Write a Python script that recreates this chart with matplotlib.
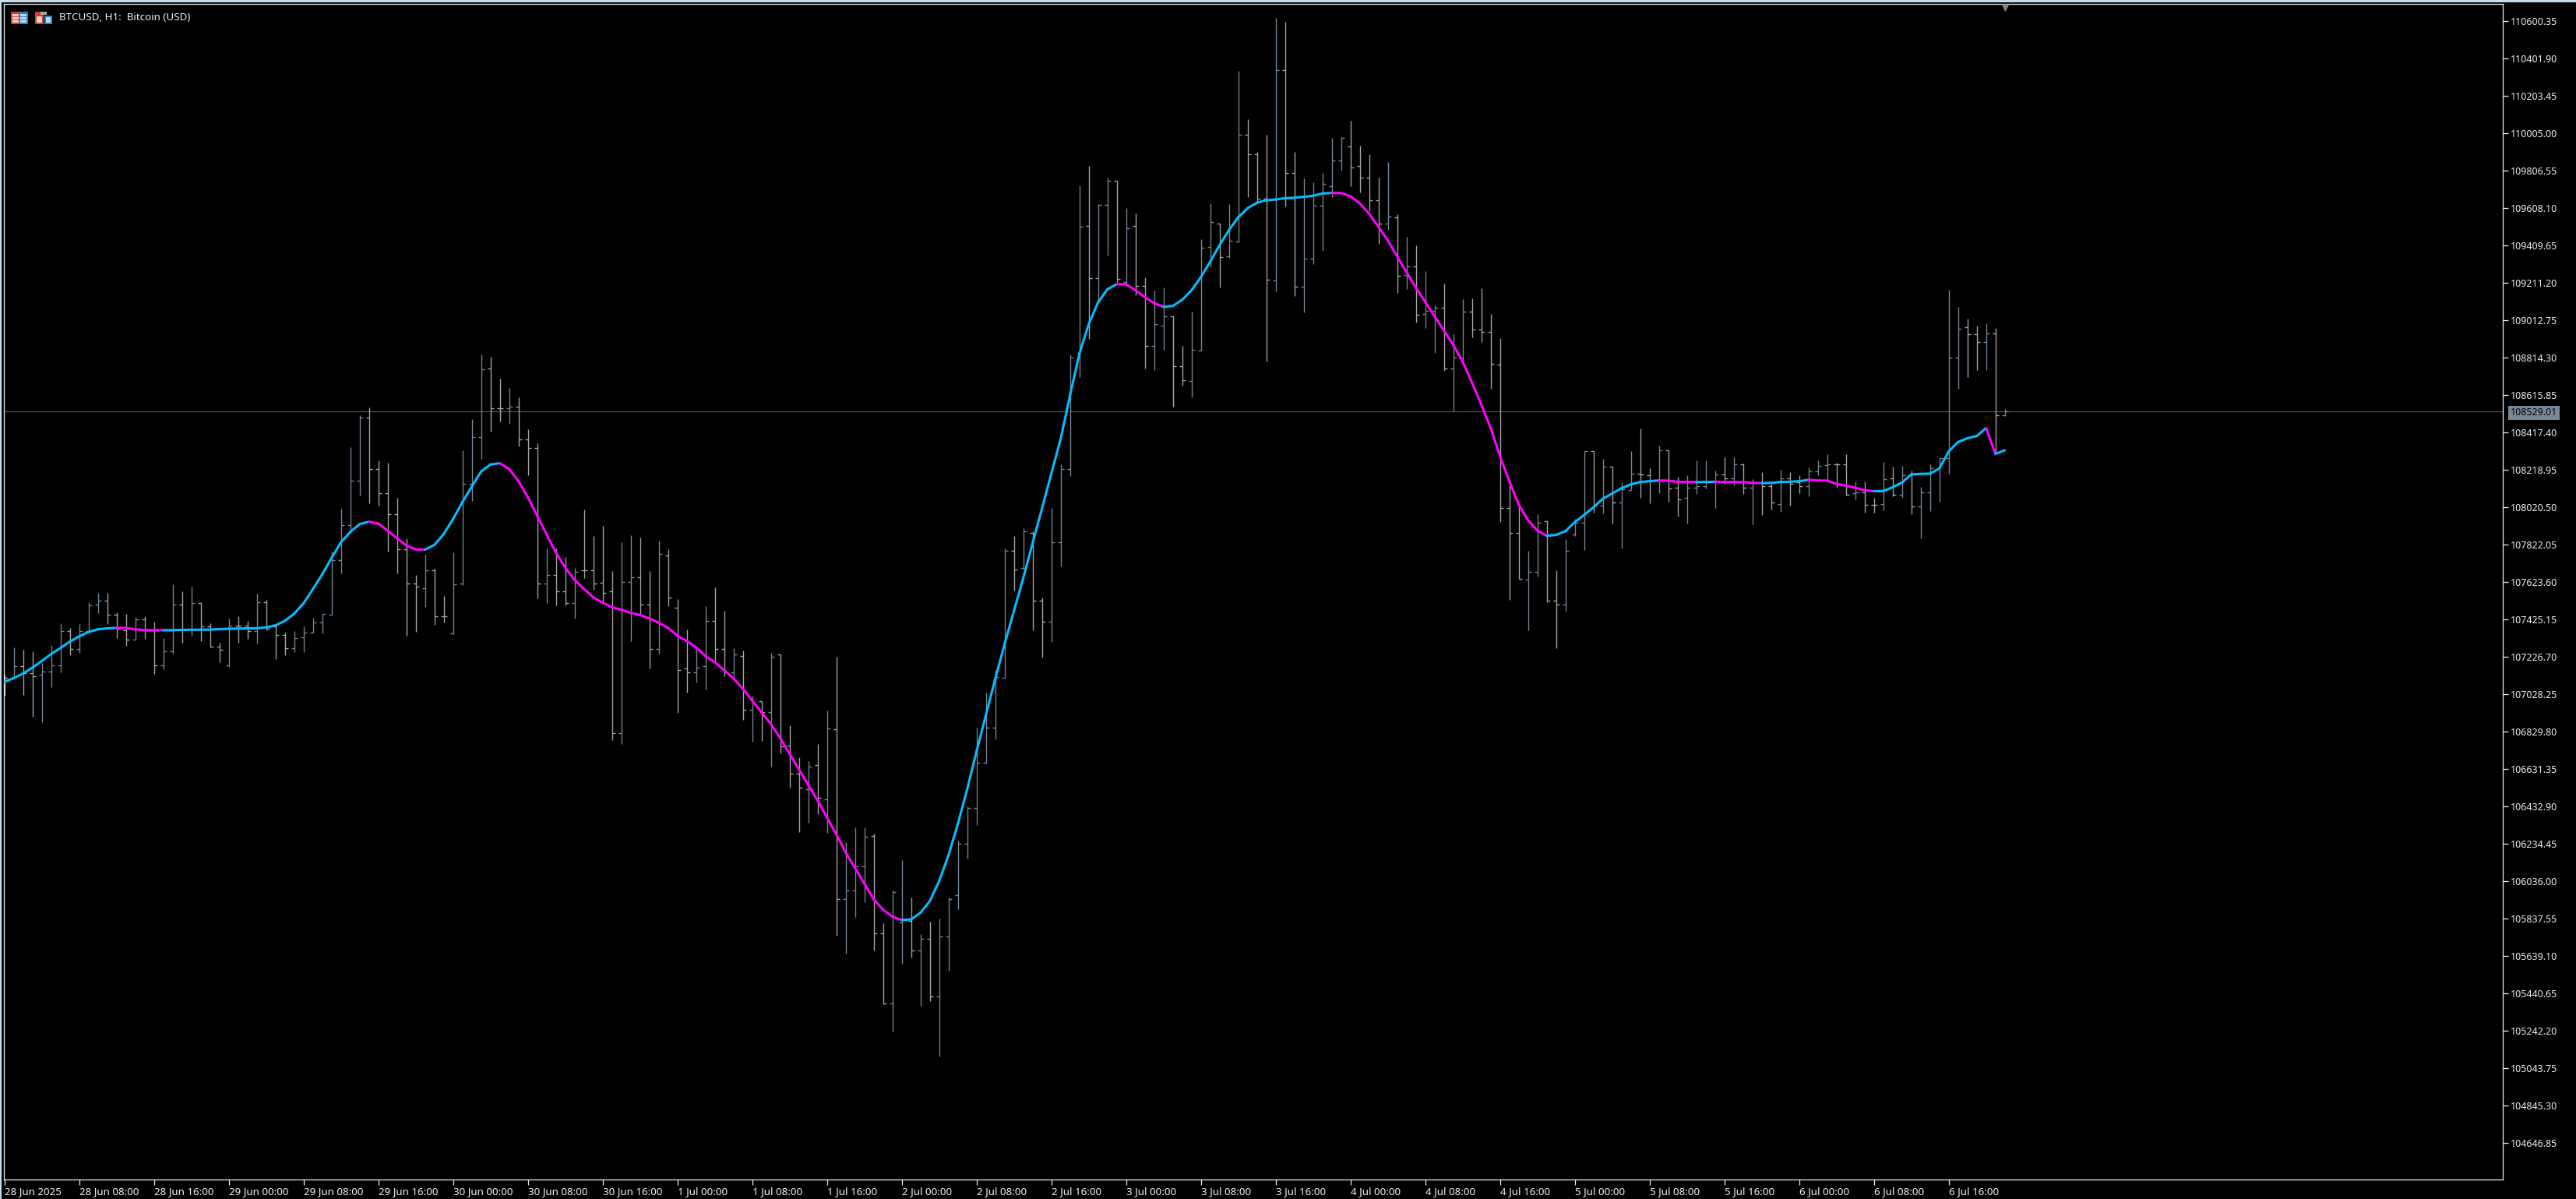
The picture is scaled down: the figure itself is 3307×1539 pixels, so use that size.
import matplotlib
matplotlib.use("Agg")
import matplotlib.pyplot as plt
from matplotlib.collections import LineCollection
from matplotlib.patches import Rectangle
from matplotlib.transforms import blended_transform_factory
import numpy as np

# ---- chart values ----
title = "BTCUSD, H1:  Bitcoin (USD)"
last_price = 108529.01

opens = [
 107116,107116,107177,107140,107133,107151,107181,107364,107270,107364,
 107505,107525,107450,107370,107319,107425,107370,107182,107257,107505,
 107378,107512,107388,107281,107181,107394,107394,107364,107519,107388,
 107344,107275,107333,107356,107411,107450,107742,107927,108163,108499,
 108226,108096,107985,107797,107617,107593,107686,107443,107351,107617,
 108145,108393,108758,108547,108547,108555,108380,108336,107617,107661,
 107574,107512,107686,107686,107622,107574,106823,107624,107649,107505,
 107270,107767,107487,107165,107146,107177,107420,107270,107147,107232,
 106947,106993,106933,107239,106757,106607,106526,106655,106470,106842,
 105944,105987,106116,106278,105762,105390,105817,105827,105670,105732,
 105427,105744,105962,106235,106428,106668,106851,107115,107791,107699,
 107887,107525,107413,107835,108225,108817,109515,109236,109625,109755,
 109216,109515,109197,108876,108987,109037,108771,108690,108852,109404,
 109528,109352,109432,109999,109893,109658,109224,110341,109796,109193,
 109341,109621,109727,109862,109938,109831,109769,109651,109527,109561,
 109256,109300,109049,109062,109080,108759,108814,109058,108963,108952,
 108777,108019,107884,107636,107680,107949,107525,107505,107877,107939,
 108318,108029,108238,108045,108114,108201,108190,108164,108325,108125,
 108070,108125,108132,108156,108194,108174,108249,108125,108153,108132,
 108038,108175,108153,108132,108212,108247,108249,108249,108095,108102,
 108033,108038,108175,108088,108190,108025,108100,108230,108284,108814,
 108976,108938,108897,108944,108511]
highs = [
 107133,107277,107264,107257,107195,107291,107408,107383,107401,107519,
 107567,107567,107463,107457,107439,107445,107414,107328,107612,107576,
 107601,107519,107408,107304,107433,107445,107419,107563,107530,107394,
 107356,107364,107388,107434,107457,107788,108015,108339,108511,108550,
 108270,108259,108073,107857,107664,107774,107694,107551,107781,108325,
 108488,108831,108821,108704,108654,108605,108435,108362,107804,107801,
 107756,107701,108011,107868,107924,107682,107836,107875,107861,107682,
 107843,107799,107533,107372,107278,107496,107595,107471,107272,107260,
 107023,106993,107248,107239,106863,106696,106676,106764,106943,107230,
 106243,106323,106323,106290,105813,105987,106148,105951,105758,105821,
 105838,105951,106254,106433,106851,107037,107160,107804,107868,107909,
 107896,107542,108016,108250,108834,109729,109834,109631,109769,109756,
 109609,109579,109240,109170,109188,109040,108878,109059,109443,109635,
 109529,109631,110337,110082,109907,109999,110620,110596,109907,109765,
 109747,109797,109983,109988,110071,109940,109896,109772,109852,109578,
 109455,109412,109276,109093,109207,108938,109127,109131,109182,109046,
 108921,108167,108025,107792,107985,107953,107689,107854,107960,108321,
 108318,108277,108238,108153,108321,108438,108227,108350,108325,108185,
 108190,108270,108270,108215,108288,108288,108252,108171,108208,108146,
 108222,108208,108190,108233,108270,108302,108256,108302,108160,108160,
 108073,108263,108238,108240,108215,108130,108250,108284,109177,109083,
 109021,108984,108996,108971,108543]
lows = [
 107022,107112,107025,106912,106882,107068,107144,107236,107250,107364,
 107459,107401,107328,107287,107319,107323,107137,107163,107243,107304,
 107342,107312,107277,107199,107174,107304,107323,107298,107367,107215,
 107236,107254,107254,107356,107354,107450,107671,107884,108084,108043,
 108032,107788,107671,107340,107360,107491,107398,107409,107350,107609,
 108056,108277,108422,108477,108463,108346,108191,107540,107515,107502,
 107502,107429,107646,107584,107519,106785,106767,107312,107457,107168,
 107244,107498,106932,107037,107092,107055,107209,107124,107120,106895,
 106778,106782,106647,106716,106535,106300,106348,106392,106293,105748,
 105655,105848,105928,105668,105383,105240,105601,105631,105376,105401,
 105108,105562,105890,106158,106337,106662,106790,107115,107579,107693,
 107367,107224,107306,107708,108186,108714,108917,109105,109358,109216,
 109197,109147,108760,108749,108856,108557,108668,108607,108852,109295,
 109188,109345,109428,109666,109641,108794,109166,109618,109141,109056,
 109313,109382,109669,109809,109724,109692,109593,109421,109494,109159,
 109180,109003,108973,108842,108746,108530,108793,108925,108900,108652,
 107943,107529,107640,107367,107653,107519,107274,107467,107870,107795,
 107994,107988,107937,107801,108114,108073,108043,108098,108050,107974,
 107937,108091,108123,108018,108146,108136,108091,107932,107981,108011,
 107999,108032,108098,108080,108192,108160,108125,108084,108063,107994,
 107994,108005,108081,108070,107985,107855,108000,108050,108200,108649,
 108714,108750,108750,108304,108504]
closes = [
 107116,107177,107140,107126,107151,107181,107364,107270,107364,107502,
 107525,107450,107378,107319,107425,107370,107182,107257,107505,107374,
 107512,107388,107281,107264,107394,107394,107364,107519,107378,107344,
 107275,107328,107356,107411,107454,107742,107927,108163,108499,108226,
 108096,107985,107797,107617,107600,107686,107443,107443,107613,108145,
 108393,108754,108547,108547,108555,108380,108336,107617,107661,107574,
 107512,107680,107686,107617,107567,106823,107624,107649,107505,107270,
 107773,107543,107158,107146,107170,107420,107270,107147,107239,106947,
 106982,106933,107227,106754,106607,106533,106644,106482,106847,105944,
 105987,106116,106272,105762,105390,105981,105831,105670,105732,105427,
 105744,105944,106235,106428,106668,106851,107121,107791,107693,107896,
 107525,107413,107835,108225,108817,109511,109236,109625,109756,109234,
 109502,109197,108876,108992,109037,108771,108695,108858,109397,109535,
 109349,109437,109999,109893,109658,109231,110341,109796,109193,109341,
 109621,109738,109862,109982,109825,109769,109651,109527,109566,109249,
 109300,109045,109062,109080,108759,108814,109058,108963,108952,108783,
 108019,107884,107640,107680,107939,107525,107505,107791,107939,108321,
 108029,108238,108045,108118,108201,108194,108164,108325,108120,108063,
 108125,108132,108156,108194,108174,108249,108125,108156,108132,108045,
 108175,108146,108132,108212,108242,108249,108249,108088,108102,108033,
 108033,108169,108088,108190,108025,108100,108230,108284,108814,108970,
 108938,108897,108944,108511,108529]
ma_values = [
 107095,107115,107140,107171,107206,107243,107275,107309,107337,107360,
 107374,107379,107382,107381,107374,107370,107369.5,107369,107370,107371,
 107371.5,107372,107372.5,107375,107377,107378,107379,107380,107384,107395,
 107419,107457,107512,107588,107666,107753,107836,107891,107932,107945,
 107935,107898,107857,107819,107798,107797,107822,107880,107960,108050,
 108132,108212,108249,108255,108225,108160,108074,107976,107877,107781,
 107701,107636,107588,107544,107515,107491,107478,107461,107450,107432,
 107409,107381,107340,107312,107278,107232,107199,107157,107113,107058,
 106996,106933,106871,106796,106713,106630,106548,106465,106375,106286,
 106189,106107,106024,105941,105886,105849,105831,105835,105870,105932,
 106038,106176,106341,106527,106727,106920,107112,107296,107472,107647,
 107832,108016,108201,108385,108616,108837,108994,109109,109179,109206,
 109205,109173,109136,109105,109085,109090,109123,109173,109243,109326,
 109413,109493,109561,109609,109638,109651,109655,109662,109664,109669,
 109675,109687,109690,109689,109672,109634,109579,109510,109437,109352,
 109269,109187,109111,109035,108959,108883,108794,108684,108566,108442,
 108291,108160,108036,107953,107898,107870,107875,107895,107943,107981,
 108022,108067,108095,108123,108143,108156,108160,108164,108163,108157,
 108156,108155,108156,108157,108156,108155.5,108155,108151,108150,108151,
 108156,108157,108160,108167,108164,108163,108146,108136,108125,108112,
 108107,108108,108128,108153,108196,108199,108200,108228,108318,108368,
 108388,108400,108442,108305,108324]

price_ticks = [
 110600.35,110401.90,110203.45,110005.00,109806.55,109608.10,109409.65,109211.20,
 109012.75,108814.30,108615.85,108417.40,108218.95,108020.50,107822.05,107623.60,
 107425.15,107226.70,107028.25,106829.80,106631.35,106432.90,106234.45,106036.00,
 105837.55,105639.10,105440.65,105242.20,105043.75,104845.30,104646.85]
time_ticks = list(range(0, 209, 8))
time_labels = [
 "28 Jun 2025","28 Jun 08:00","28 Jun 16:00","29 Jun 00:00","29 Jun 08:00","29 Jun 16:00",
 "30 Jun 00:00","30 Jun 08:00","30 Jun 16:00","1 Jul 00:00","1 Jul 08:00","1 Jul 16:00",
 "2 Jul 00:00","2 Jul 08:00","2 Jul 16:00","3 Jul 00:00","3 Jul 08:00","3 Jul 16:00",
 "4 Jul 00:00","4 Jul 08:00","4 Jul 16:00","5 Jul 00:00","5 Jul 08:00","5 Jul 16:00",
 "6 Jul 00:00","6 Jul 08:00","6 Jul 16:00"]

# ---- styles ----
W, H = 3307, 1539
L, R, T, B = 5, 3213, 5, 1514
FONT = "Noto Sans"
UP = "#778899"
DOWN = "#A9A9A9"
MA_UP = "#00BFFF"
MA_DOWN = "#FF00FF"
AXIS = "#F0F0F0"
TXT = "#F0F0F0"

plt.rcParams["font.family"] = FONT
fig = plt.figure(figsize=(W / 100, H / 100), dpi=100, facecolor="black")
ax = fig.add_axes([L / W, (H - B) / H, (R - L) / W, (B - T) / H], facecolor="black")

px_per_bar = 12.0
x_first = 0.7  # px from the left spine to the first bar
ax.set_xlim(-x_first / px_per_bar, (R - L - x_first) / px_per_bar)
units_per_px = 198.45 / 48
first_tick_row = 27.4
ax.set_ylim(price_ticks[0] - (B - first_tick_row) * units_per_px,
            price_ticks[0] + (first_tick_row - T) * units_per_px)

# OHLC bars
o, h, l, c = map(np.asarray, (opens, highs, lows, closes))
x = np.arange(len(o))
stub = 4 / px_per_bar
segs, cols = [], []
for i in x:
    col = UP if c[i] > o[i] else DOWN
    segs += [[(i, l[i]), (i, h[i])], [(i - stub, o[i]), (i, o[i])], [(i, c[i]), (i + stub, c[i])]]
    cols += [col, col, col]
ax.add_collection(LineCollection(segs, colors=cols, linewidths=0.95, zorder=2, capstyle="butt"))

# last price line
ax.axhline(last_price, color="#4A525C", lw=0.9, zorder=1)

# smoothed line coloured by its direction
ma = np.asarray(ma_values, dtype=float)
ma_segs = [[(i - 1, ma[i - 1]), (i, ma[i])] for i in range(1, len(ma))]
ma_cols = [MA_UP if ma[i] >= ma[i - 1] else MA_DOWN for i in range(1, len(ma))]
ax.add_collection(LineCollection(ma_segs, colors=ma_cols, linewidths=2.2, zorder=3, capstyle="round"))

# axes
for s in ax.spines.values():
    s.set_color(AXIS)
    s.set_linewidth(0.9)
ax.yaxis.tick_right()
ax.set_yticks(price_ticks)
ax.set_yticklabels([f"{v:.2f}" for v in price_ticks])
ax.set_xticks(time_ticks)
ax.set_xticklabels(time_labels, ha="left")
ax.tick_params(axis="y", length=5, width=0.9, color=AXIS, labelcolor=TXT, labelsize=9.0, pad=2)
ax.tick_params(axis="x", length=5, width=0.9, color=AXIS, labelcolor=TXT, labelsize=9.6, pad=1.5)

# last price tag
tr = blended_transform_factory(ax.transAxes, ax.transData)
ax.text(1 + 10 / (R - L), last_price, f"{last_price:.2f}", transform=tr, ha="left", va="center_baseline",
        fontsize=9.0, color="black", clip_on=False, zorder=5,
        bbox=dict(boxstyle="square,pad=0.22", fc=UP, ec="none"))

# ship marker just under the top edge
ax.plot([x[-1]], [0.9965], marker="v", ms=7, color="#808080", mec="none", clip_on=False,
        transform=blended_transform_factory(ax.transData, ax.transAxes), zorder=6)

# title
fig.text(76 / W, 1 - 23 / H, title, color=TXT, fontsize=9.65, ha="left", va="center")

# window frame and title icons (figure pixels)
def box(x0, y0, w, hgt, col):
    fig.add_artist(Rectangle((x0 / W, 1 - (y0 + hgt) / H), w / W, hgt / H, transform=fig.transFigure,
                             fc=col, ec="none", zorder=10))
box(0, 0, W, 2.5, "#C8DCEC")
box(0, 0, 1.5, H, "#C8DCEC")
box(14, 15, 11, 16, "#D83A30"); box(25, 15, 11, 16, "#2E7FC4")
box(16, 18, 8, 3, "#F8D0C8"); box(16, 22, 8, 3, "#F8D0C8"); box(16, 26, 8, 3, "#F8D0C8")
box(26, 18, 8, 3, "#B8DCF8"); box(26, 22, 8, 3, "#B8DCF8"); box(26, 26, 8, 3, "#B8DCF8")
box(45, 15, 11, 16, "#D83A30"); box(47, 21, 7, 8, "#F8D0C8")
box(57, 20, 10, 11, "#2E7FC4"); box(59, 22, 6, 7, "#B8DCF8")
box(52, 15, 8, 4, "#A8A8A8")

fig.savefig("out.png", dpi=100, facecolor="black")
